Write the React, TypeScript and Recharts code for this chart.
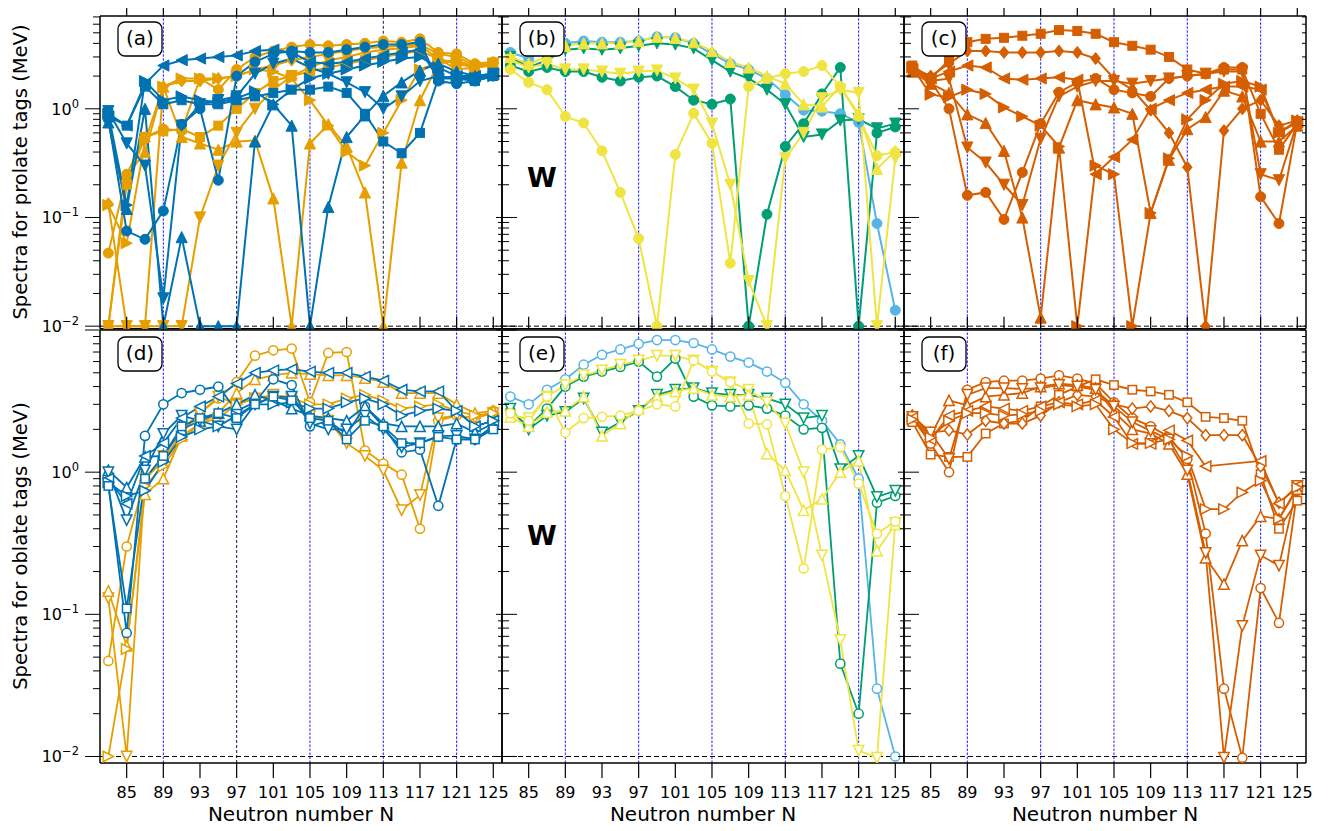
import React from "react";
import { LineChart, Line, XAxis, YAxis, ReferenceLine } from "recharts";

const FONT = "'DejaVu Sans', 'Liberation Sans', sans-serif";

const neutrons = [83, 85, 87, 89, 91, 93, 95, 97, 99, 101, 103, 105, 107, 109, 111, 113, 115, 117, 119, 121, 123, 125];
const xTicks = [85, 89, 93, 97, 101, 105, 109, 113, 117, 121, 125];
const shellLines = [89, 97, 105, 113, 121];
const yMajorTicks = [0.01, 0.1, 1, 10];
const yMinorTicks = [0.02, 0.03, 0.04, 0.05, 0.06, 0.07, 0.08, 0.09, 0.2, 0.3, 0.4, 0.5, 0.6, 0.7, 0.8, 0.9, 2, 3, 4, 5, 6, 7, 8, 9];
const yTickExp: Record<string, string> = { "0.01": "\u22122", "0.1": "\u22121", "1": "0" };

// (a) prolate tags, filled markers
const aOrangeCircle = [0.047, 0.25, 0.55, 0.65, 0.63, 1.9, 1.5, 2.3, 3.0, 3.4, 3.7, 3.9, 3.8, 3.9, 4.0, 4.2, 4.1, 4.4, 3.3, 3.2, 2.6, 2.7];
const aOrangeDiamond = [0.134, 0.01, 0.01, 1.6, 1.8, 1.8, 1.9, 2.0, 2.3, 2.5, 2.8, 3.0, 3.2, 3.4, 3.6, 3.7, 3.8, 3.9, 3.2, 3.0, 2.5, 2.6];
const aOrangeDown = [0.01, 0.01, 0.01, 0.01, 0.01, 0.1, 0.3, 0.6, 1.0, 1.5, 2.0, 2.4, 2.8, 3.0, 3.3, 3.5, 3.6, 3.8, 2.9, 2.3, 2.4, 2.6];
const aOrangeUp = [0.01, 0.24, 0.4, 1.6, 0.55, 0.48, 0.42, 0.5, 0.51, 0.15, 0.01, 0.48, 0.72, 0.45, 0.17, 0.01, 0.32, 1.2, 2.6, 2.8, 2.4, 2.6];
const aOrangeRight = [0.13, 0.058, 0.5, 1.6, 1.9, 1.9, 1.9, 2.0, 2.3, 2.2, 1.9, 1.2, 0.7, 0.4, 0.3, 0.6, 1.2, 2.3, 2.7, 2.8, 2.4, 2.6];
const aOrangeSquare = [0.01, 0.2, 0.55, 0.62, 0.65, 0.55, 0.7, 1.0, 1.4, 1.8, 2.0, 2.2, 2.4, 2.6, 2.8, 3.0, 3.2, 3.4, 2.9, 2.6, 2.4, 2.5];
const aBlueCircle = [0.8, 0.075, 0.063, 0.115, 0.72, 1.0, 0.22, 2.0, 2.7, 3.2, 3.4, 3.3, 3.3, 3.5, 3.7, 3.9, 3.9, 4.1, 1.8, 1.7, 1.8, 2.0];
const aBlueLeft = [0.85, 0.7, 1.7, 2.5, 2.8, 2.9, 3.0, 3.1, 3.4, 3.5, 3.3, 2.7, 2.6, 2.7, 2.9, 3.1, 3.3, 3.5, 1.9, 2.0, 2.0, 2.1];
const aBlueDown = [0.95, 0.48, 0.3, 0.018, 0.7, 1.1, 1.2, 1.3, 2.1, 2.6, 2.9, 2.4, 2.1, 1.75, 1.42, 1.0, 1.3, 1.8, 2.0, 1.9, 1.9, 2.1];
const aBlueUp = [0.75, 0.12, 1.0, 0.01, 0.066, 0.01, 0.01, 0.01, 0.5, 1.1, 0.7, 0.01, 0.125, 0.55, 0.87, 1.32, 1.75, 2.25, 2.6, 2.2, 2.0, 2.1];
const aBlueRight = [0.9, 0.13, 1.8, 1.2, 1.3, 1.2, 1.15, 1.25, 1.45, 1.1, 1.5, 1.9, 2.1, 2.3, 2.5, 2.7, 2.9, 3.0, 2.4, 2.0, 1.9, 2.0];
const aBlueSquare = [0.9, 0.7, 1.6, 1.1, 1.2, 1.1, 1.1, 1.2, 1.3, 1.4, 1.5, 1.5, 1.6, 1.4, 0.9, 0.5, 0.39, 0.6, 1.9, 1.9, 1.8, 2.0];

// (b)
const bSkyCircle = [3.3, 2.9, 3.6, 4.0, 4.2, 4.1, 4.1, 4.2, 4.6, 4.5, 4.0, 3.2, 2.6, 2.3, 1.9, 1.35, 0.97, 0.95, 0.9, 0.75, 0.088, 0.014];
const bGreenDown = [3.0, 2.4, 2.8, 3.5, 3.6, 3.5, 3.6, 3.8, 4.0, 3.9, 3.6, 2.8, 2.2, 1.9, 1.5, 1.1, 0.55, 0.58, 0.78, 0.8, 0.66, 0.73];
const bGreenCircle = [2.5, 2.2, 2.4, 2.2, 2.2, 1.95, 1.8, 1.95, 2.0, 1.6, 1.2, 1.1, 1.23, 0.01, 0.107, 0.45, 0.73, 1.37, 2.4, 0.01, 0.6, 0.68];
const bYellowDown = [2.8, 2.4, 2.6, 2.3, 2.3, 2.2, 2.1, 2.2, 2.25, 1.9, 1.5, 0.73, 0.2, 0.026, 0.01, 0.35, 0.6, 1.25, 1.5, 1.4, 0.01, 0.35];
const bYellowUp = [3.0, 2.6, 3.0, 3.8, 4.0, 4.0, 4.0, 4.2, 4.6, 4.5, 4.1, 3.4, 2.7, 2.4, 2.0, 1.7, 1.1, 1.05, 1.6, 0.9, 0.28, 0.41];
const bYellowCircle = [2.3, 1.75, 1.5, 0.85, 0.74, 0.41, 0.17, 0.064, 0.01, 0.38, 0.91, 0.48, 0.038, 1.6, 1.9, 2.1, 2.2, 2.5, 1.6, 0.85, 0.37, 0.4];

// (c)
const cSquare = [2.5, 1.9, 2.8, 4.1, 4.4, 4.5, 4.7, 4.9, 5.3, 5.2, 4.9, 4.1, 3.8, 3.5, 3.0, 2.3, 2.1, 2.3, 2.3, 0.9, 0.42, 0.73];
const cRight = [2.4, 1.35, 1.28, 1.5, 1.37, 1.03, 0.85, 0.7, 0.45, 0.01, 0.3, 0.25, 0.01, 0.11, 0.35, 0.8, 1.2, 1.7, 1.8, 1.6, 0.6, 0.78];
const cDiamond = [2.4, 2.0, 2.6, 3.4, 3.4, 3.3, 3.3, 3.3, 3.4, 3.3, 2.9, 1.9, 1.5, 0.97, 0.6, 0.29, 0.01, 0.63, 1.0, 1.2, 0.7, 0.78];
const cLeft = [2.3, 1.9, 2.2, 2.5, 2.4, 1.9, 1.85, 1.9, 1.95, 1.85, 0.25, 0.36, 0.52, 1.0, 1.2, 1.4, 1.5, 1.6, 1.6, 1.5, 0.6, 0.75];
const cCircle = [2.3, 1.8, 1.0, 0.16, 0.17, 0.096, 0.26, 0.73, 1.42, 1.75, 1.9, 1.5, 1.4, 1.3, 1.9, 2.0, 2.1, 2.4, 2.4, 0.155, 0.088, 0.75];
const cUp = [2.2, 1.7, 1.4, 0.89, 0.74, 0.41, 0.1, 0.012, 0.44, 1.2, 1.1, 1.03, 0.9, 0.11, 0.34, 0.65, 0.84, 1.47, 1.3, 0.5, 0.5, 0.7];
const cDown = [2.3, 1.8, 1.9, 0.44, 0.32, 0.2, 0.13, 0.53, 1.3, 1.6, 1.8, 1.8, 1.7, 1.8, 1.9, 2.0, 2.1, 2.2, 2.2, 0.25, 0.22, 0.75];

// (d) oblate tags, open markers
const dOrangeCircle = [0.047, 0.3, 0.9, 1.2, 1.9, 2.6, 3.3, 4.3, 6.6, 7.2, 7.4, 3.1, 6.9, 7.0, 1.42, 1.15, 0.96, 0.4, 2.3, 2.5, 2.4, 2.7];
const dOrangeDown = [0.13, 0.01, 0.9, 1.3, 2.0, 2.6, 3.4, 3.0, 3.3, 3.5, 3.3, 2.5, 2.3, 1.6, 1.3, 1.03, 0.54, 0.69, 2.4, 2.5, 2.4, 2.6];
const dOrangeUp = [0.146, 0.06, 0.7, 0.9, 1.8, 2.2, 2.6, 3.6, 4.5, 4.8, 5.0, 4.9, 4.8, 4.8, 4.6, 4.3, 3.6, 3.6, 3.6, 3.0, 2.6, 2.7];
const dOrangeRight = [0.01, 0.057, 0.8, 1.1, 1.7, 2.2, 2.4, 3.0, 3.3, 3.4, 3.3, 3.0, 3.0, 3.3, 3.5, 3.2, 2.8, 2.9, 3.0, 2.7, 2.5, 2.6];
const dBlueCircle = [0.83, 0.074, 1.8, 3.0, 3.6, 3.8, 4.0, 2.7, 3.1, 4.5, 4.1, 2.1, 2.3, 1.85, 2.9, 2.1, 1.38, 1.44, 0.58, 1.7, 1.7, 2.1];
const dBlueUp = [1.03, 0.78, 1.28, 1.3, 2.0, 2.3, 2.6, 3.0, 3.5, 3.2, 2.8, 2.5, 2.4, 2.3, 2.9, 2.2, 2.1, 2.1, 2.1, 2.2, 1.9, 2.2];
const dBlueDown = [1.0, 0.46, 1.03, 1.86, 2.5, 2.3, 2.1, 2.0, 3.0, 3.4, 3.4, 2.2, 2.0, 2.0, 2.5, 2.0, 1.5, 1.6, 1.8, 1.8, 1.7, 2.1];
const dBlueLeft = [0.9, 0.6, 1.3, 1.6, 2.4, 2.9, 3.4, 4.2, 5.0, 5.2, 5.3, 5.1, 5.0, 5.0, 4.7, 4.4, 3.8, 3.7, 3.7, 2.7, 2.1, 2.3];
const dBlueRight = [0.85, 0.68, 0.74, 1.18, 1.77, 2.0, 2.1, 2.5, 3.0, 3.0, 3.1, 2.8, 2.8, 3.1, 3.3, 3.0, 2.5, 2.7, 2.8, 2.7, 2.1, 2.3];
const dBlueSquare = [0.8, 0.11, 0.9, 1.3, 2.1, 2.4, 2.6, 2.4, 3.0, 3.4, 3.2, 2.4, 2.3, 1.7, 2.3, 2.1, 1.6, 1.6, 1.77, 1.7, 1.7, 2.0];

// (e)
const eSkyCircle = [3.4, 3.0, 3.8, 4.5, 5.7, 6.7, 7.3, 8.0, 8.5, 8.5, 8.1, 7.3, 6.5, 5.9, 5.1, 4.25, 3.0, 2.3, 1.57, 0.9, 0.03, 0.01];
const eGreenCircle = [2.7, 2.1, 2.8, 4.0, 4.7, 5.1, 5.5, 6.0, 4.7, 6.3, 3.4, 2.95, 2.9, 2.95, 2.8, 2.5, 2.0, 2.05, 0.045, 0.02, 0.61, 0.68];
const eGreenDown = [2.8, 2.0, 2.5, 2.65, 3.3, 1.9, 2.25, 2.7, 3.5, 3.8, 3.9, 3.6, 3.5, 3.5, 3.3, 3.0, 2.4, 2.5, 1.05, 1.3, 0.67, 0.74];
const eYellowDown = [2.5, 2.4, 3.4, 4.1, 4.8, 5.2, 5.7, 6.1, 6.6, 6.6, 6.1, 5.1, 4.3, 3.8, 3.1, 2.2, 1.0, 0.26, 0.066, 0.011, 0.0098, 0.44];
const eYellowUp = [2.45, 2.1, 2.65, 2.7, 3.4, 1.8, 2.2, 2.8, 3.4, 3.7, 3.9, 3.5, 3.4, 3.5, 1.35, 1.03, 0.54, 0.65, 1.0, 1.2, 0.28, 0.43];
const eYellowCircle = [2.6, 2.3, 3.4, 1.9, 2.4, 2.45, 2.5, 2.7, 3.0, 2.9, 6.1, 5.1, 4.3, 2.2, 2.17, 0.68, 0.21, 1.44, 1.5, 0.83, 0.37, 0.45];

// (f)
const fCircle = [2.4, 1.59, 1.0, 3.8, 4.3, 4.4, 4.4, 4.55, 4.8, 4.55, 4.2, 3.1, 2.4, 2.1, 1.77, 1.24, 0.37, 0.03, 0.0098, 0.153, 0.087, 0.74];
const fSquare = [2.25, 1.33, 1.28, 1.28, 1.87, 2.2, 2.3, 2.9, 3.5, 4.0, 4.5, 4.1, 3.8, 3.7, 3.5, 3.1, 2.45, 2.4, 2.3, 0.97, 0.4, 0.63];
const fDiamond = [2.5, 1.9, 1.97, 1.84, 2.3, 2.2, 2.2, 2.5, 3.1, 3.5, 3.4, 3.0, 2.8, 2.9, 2.7, 2.4, 1.82, 1.82, 1.82, 1.1, 0.61, 0.78];
const fUp = [2.5, 1.8, 3.2, 2.95, 3.4, 3.5, 3.6, 4.0, 4.2, 4.1, 3.9, 2.65, 2.0, 1.87, 1.58, 0.97, 0.25, 0.163, 0.33, 0.49, 0.47, 0.76];
const fDown = [2.45, 1.9, 1.24, 3.5, 3.9, 3.9, 3.85, 3.9, 4.1, 4.0, 3.8, 2.9, 2.25, 1.95, 1.7, 1.03, 0.27, 0.0098, 0.083, 0.26, 0.22, 0.8];
const fLeft = [2.4, 1.7, 2.5, 2.7, 2.9, 2.8, 2.7, 2.9, 3.1, 3.0, 3.2, 2.45, 1.58, 1.58, 1.97, 1.67, 1.1, null, null, 1.2, 0.6, 0.8];
const fRight = [2.35, 1.75, 2.3, 2.6, 2.6, 2.5, 2.55, 2.7, 3.0, 2.9, 3.0, 2.0, 1.6, 1.6, 1.7, 1.3, 0.55, 0.55, 0.72, 0.87, 0.47, 0.78];

const BLUE = "#0072B2";
const ORANGE = "#E69F00";
const SKY = "#56B4E9";
const GREEN = "#009E73";
const YELLOW = "#F0E442";
const RED = "#D55E00";

type Marker = "o" | "^" | "v" | "<" | ">" | "s" | "D";
interface Series {
  key: string;
  values: (number | null)[];
  color: string;
  marker: Marker;
}

const panelA: Series[] = [
  { key: "oo", values: aOrangeCircle, color: ORANGE, marker: "o" },
  { key: "oD", values: aOrangeDiamond, color: ORANGE, marker: "D" },
  { key: "ov", values: aOrangeDown, color: ORANGE, marker: "v" },
  { key: "o^", values: aOrangeUp, color: ORANGE, marker: "^" },
  { key: "o>", values: aOrangeRight, color: ORANGE, marker: ">" },
  { key: "os", values: aOrangeSquare, color: ORANGE, marker: "s" },
  { key: "bo", values: aBlueCircle, color: BLUE, marker: "o" },
  { key: "b<", values: aBlueLeft, color: BLUE, marker: "<" },
  { key: "bv", values: aBlueDown, color: BLUE, marker: "v" },
  { key: "b^", values: aBlueUp, color: BLUE, marker: "^" },
  { key: "b>", values: aBlueRight, color: BLUE, marker: ">" },
  { key: "bs", values: aBlueSquare, color: BLUE, marker: "s" },
];
const panelB: Series[] = [
  { key: "so", values: bSkyCircle, color: SKY, marker: "o" },
  { key: "gv", values: bGreenDown, color: GREEN, marker: "v" },
  { key: "go", values: bGreenCircle, color: GREEN, marker: "o" },
  { key: "yv", values: bYellowDown, color: YELLOW, marker: "v" },
  { key: "y^", values: bYellowUp, color: YELLOW, marker: "^" },
  { key: "yo", values: bYellowCircle, color: YELLOW, marker: "o" },
];
const panelC: Series[] = [
  { key: "rs", values: cSquare, color: RED, marker: "s" },
  { key: "r>", values: cRight, color: RED, marker: ">" },
  { key: "rD", values: cDiamond, color: RED, marker: "D" },
  { key: "r<", values: cLeft, color: RED, marker: "<" },
  { key: "ro", values: cCircle, color: RED, marker: "o" },
  { key: "r^", values: cUp, color: RED, marker: "^" },
  { key: "rv", values: cDown, color: RED, marker: "v" },
];
const panelD: Series[] = [
  { key: "oo", values: dOrangeCircle, color: ORANGE, marker: "o" },
  { key: "ov", values: dOrangeDown, color: ORANGE, marker: "v" },
  { key: "o^", values: dOrangeUp, color: ORANGE, marker: "^" },
  { key: "o>", values: dOrangeRight, color: ORANGE, marker: ">" },
  { key: "bo", values: dBlueCircle, color: BLUE, marker: "o" },
  { key: "b^", values: dBlueUp, color: BLUE, marker: "^" },
  { key: "bv", values: dBlueDown, color: BLUE, marker: "v" },
  { key: "b<", values: dBlueLeft, color: BLUE, marker: "<" },
  { key: "b>", values: dBlueRight, color: BLUE, marker: ">" },
  { key: "bs", values: dBlueSquare, color: BLUE, marker: "s" },
];
const panelE: Series[] = [
  { key: "so", values: eSkyCircle, color: SKY, marker: "o" },
  { key: "go", values: eGreenCircle, color: GREEN, marker: "o" },
  { key: "gv", values: eGreenDown, color: GREEN, marker: "v" },
  { key: "yv", values: eYellowDown, color: YELLOW, marker: "v" },
  { key: "y^", values: eYellowUp, color: YELLOW, marker: "^" },
  { key: "yo", values: eYellowCircle, color: YELLOW, marker: "o" },
];
const panelF: Series[] = [
  { key: "ro", values: fCircle, color: RED, marker: "o" },
  { key: "rs", values: fSquare, color: RED, marker: "s" },
  { key: "rD", values: fDiamond, color: RED, marker: "D" },
  { key: "r^", values: fUp, color: RED, marker: "^" },
  { key: "rv", values: fDown, color: RED, marker: "v" },
  { key: "r<", values: fLeft, color: RED, marker: "<" },
  { key: "r>", values: fRight, color: RED, marker: ">" },
];

// shell lines drawn darker in some panels
const darkShells: Record<string, number[]> = { "0-0": [97, 113], "0-1": [97] };

// layout
const COL_LEFT = [100, 502, 904];
const PW = 402;
const ROWS = [
  { top: 15.5, height: 312.8, domain: [0.00946, 7.14] as [number, number] },
  { top: 330, height: 433, domain: [0.009, 10] as [number, number] },
];
const X_DOMAIN: [number, number] = [82.09, 125.95];
const ML = 100;
const MR = 20;
const MT = 20;
const MB = 80;
const AX = 1; // thickness reserved by each axis

function markerRenderer(shape: Marker, color: string, filled: boolean) {
  return (props: any) => {
    const { cx, cy, index } = props;
    const key = `mk-${index}`;
    if (cx == null || cy == null || Number.isNaN(cx) || Number.isNaN(cy)) return <g key={key} />;
    const style = { fill: filled ? color : "#ffffff", stroke: color, strokeWidth: filled ? 1 : 1.5 };
    const r = filled ? 5.6 : 5.2;
    switch (shape) {
      case "o":
        return <circle key={key} cx={cx} cy={cy} r={filled ? 5 : 4.6} {...style} />;
      case "s": {
        const h = filled ? 4.5 : 4.2;
        return <rect key={key} x={cx - h} y={cy - h} width={2 * h} height={2 * h} {...style} />;
      }
      case "D": {
        const d = filled ? 6 : 5.6;
        return <polygon key={key} points={`${cx},${cy - d} ${cx + d * 0.8},${cy} ${cx},${cy + d} ${cx - d * 0.8},${cy}`} {...style} />;
      }
      case "^":
        return <polygon key={key} points={`${cx},${cy - r} ${cx - r},${cy + r} ${cx + r},${cy + r}`} {...style} />;
      case "v":
        return <polygon key={key} points={`${cx},${cy + r} ${cx - r},${cy - r} ${cx + r},${cy - r}`} {...style} />;
      case "<":
        return <polygon key={key} points={`${cx - r},${cy} ${cx + r},${cy - r} ${cx + r},${cy + r}`} {...style} />;
      default:
        return <polygon key={key} points={`${cx + r},${cy} ${cx - r},${cy - r} ${cx - r},${cy + r}`} {...style} />;
    }
  };
}

const isMajor = (v: number) => yMajorTicks.includes(v);

const makeYTick = (side: "left" | "right", col: number) => (props: any) => {
  const { x, y, payload } = props;
  const v = payload.value as number;
  const major = isMajor(v);
  if (side === "right") {
    const len = major ? 6 : 4;
    return <line x1={x - len} x2={x} y1={y} y2={y} stroke="#000" strokeWidth={1} />;
  }
  const len = major ? 15 : 7;
  if (col > 0) {
    return <line x1={x} x2={x + len} y1={y} y2={y} stroke="#000" strokeWidth={1} />;
  }
  const exp = yTickExp[String(v)];
  return (
    <g>
      <line x1={x - len} x2={x} y1={y} y2={y} stroke="#000" strokeWidth={1} />
      {exp && (
        <text x={x - 21} y={y + 6} textAnchor="end" fontSize={16} fontFamily={FONT} fill="#000">
          10<tspan dy={-7} fontSize={11.5}>{exp}</tspan>
        </text>
      )}
    </g>
  );
};

const makeXTick = (mode: "inUp" | "outDown" | "outUp") => (props: any) => {
  const { x, y, payload } = props;
  if (mode === "inUp") return <line x1={x} x2={x} y1={y} y2={y - 12} stroke="#000" strokeWidth={1.2} />;
  if (mode === "outUp") return <line x1={x} x2={x} y1={y} y2={y - 8} stroke="#000" strokeWidth={1.2} />;
  return (
    <g>
      <line x1={x} x2={x} y1={y} y2={y + 15} stroke="#000" strokeWidth={1.2} />
      <text x={x} y={y + 35} textAnchor="middle" fontSize={16} fontFamily={FONT} fill="#000">
        {payload.value}
      </text>
    </g>
  );
};

interface PanelProps {
  col: number;
  row: number;
  series: Series[];
}

function Panel({ col, row, series }: PanelProps) {
  const g = ROWS[row];
  const filled = row === 0;
  const dark = darkShells[`${col}-${row}`] || [];
  const data = neutrons.map((n, i) => {
    const r: Record<string, number | null> = { N: n };
    series.forEach((s) => {
      r[s.key] = s.values[i];
    });
    return r;
  });
  const yTicks = [...yMajorTicks, ...yMinorTicks].filter((t) => t >= g.domain[0] && t <= g.domain[1]);
  const axisLine = { stroke: "#000", strokeWidth: 1.5 };
  return (
    <div style={{ position: "absolute", left: COL_LEFT[col] - ML, top: g.top - MT }}>
      <LineChart
        width={PW + ML + MR}
        height={g.height + MT + MB}
        data={data}
        margin={{ top: MT - AX, right: MR - AX, bottom: MB - AX, left: ML - AX }}
      >
        <XAxis
          xAxisId="b"
          dataKey="N"
          type="number"
          domain={X_DOMAIN}
          allowDataOverflow
          ticks={xTicks}
          interval={0}
          height={AX}
          tickSize={0}
          tickMargin={0}
          tickLine={false}
          axisLine={axisLine}
          tick={makeXTick(row === 0 ? "inUp" : "outDown")}
        />
        <XAxis
          xAxisId="t"
          orientation="top"
          dataKey="N"
          type="number"
          domain={X_DOMAIN}
          allowDataOverflow
          ticks={xTicks}
          interval={0}
          height={AX}
          tickSize={0}
          tickMargin={0}
          tickLine={false}
          axisLine={axisLine}
          tick={row === 0 ? makeXTick("outUp") : false}
        />
        <YAxis
          yAxisId="l"
          type="number"
          scale="log"
          domain={g.domain}
          allowDataOverflow
          ticks={yTicks}
          interval={0}
          width={AX}
          tickSize={0}
          tickMargin={0}
          tickLine={false}
          axisLine={axisLine}
          tick={makeYTick("left", col)}
        />
        <YAxis
          yAxisId="r"
          orientation="right"
          type="number"
          scale="log"
          domain={g.domain}
          allowDataOverflow
          ticks={yTicks}
          interval={0}
          width={AX}
          tickSize={0}
          tickMargin={0}
          tickLine={false}
          axisLine={axisLine}
          tick={makeYTick("right", col)}
        />
        {shellLines.map((v) => {
          const isDark = dark.includes(v);
          return (
            <ReferenceLine
              key={`v${v}`}
              xAxisId="b"
              yAxisId="l"
              x={v}
              stroke={isDark ? "#000033" : "#0000ff"}
              strokeWidth={0.9}
              strokeDasharray={isDark ? "3 2" : "2.5 1.5"}
            />
          );
        })}
        <ReferenceLine xAxisId="b" yAxisId="l" y={0.01} stroke="#000" strokeWidth={1} strokeDasharray="5 3" />
        {series.map((s) => (
          <Line
            key={s.key}
            xAxisId="b"
            yAxisId="l"
            dataKey={s.key}
            stroke={s.color}
            strokeWidth={filled ? 2 : 1.8}
            dot={markerRenderer(s.marker, s.color, filled)}
            activeDot={false}
            connectNulls
            isAnimationActive={false}
          />
        ))}
      </LineChart>
    </div>
  );
}

const panelTags = [
  { text: "(a)", col: 0, row: 0 },
  { text: "(b)", col: 1, row: 0 },
  { text: "(c)", col: 2, row: 0 },
  { text: "(d)", col: 0, row: 1 },
  { text: "(e)", col: 1, row: 1 },
  { text: "(f)", col: 2, row: 1 },
];

export default function App() {
  return (
    <div style={{ position: "absolute", left: 0, top: 0, width: 1338, height: 831, background: "#fff", overflow: "hidden" }}>
      <Panel col={0} row={0} series={panelA} />
      <Panel col={1} row={0} series={panelB} />
      <Panel col={2} row={0} series={panelC} />
      <Panel col={0} row={1} series={panelD} />
      <Panel col={1} row={1} series={panelE} />
      <Panel col={2} row={1} series={panelF} />
      <svg width={1338} height={831} style={{ position: "absolute", left: 0, top: 0, pointerEvents: "none" }}>
        {panelTags.map((t) => {
          const bx = COL_LEFT[t.col] + 18;
          const by = t.row === 0 ? 22 : 337;
          return (
            <g key={t.text}>
              <rect x={bx} y={by} width={44} height={34} rx={7} ry={7} fill="#fff" stroke="#000" strokeWidth={1.3} />
              <text x={bx + 22} y={by + 23} textAnchor="middle" fontSize={20} fontFamily={FONT} fill="#000">
                {t.text}
              </text>
            </g>
          );
        })}
        <text x={542} y={187} textAnchor="middle" fontSize={27} fontWeight="bold" fontFamily={FONT} fill="#000">W</text>
        <text x={542} y={545} textAnchor="middle" fontSize={27} fontWeight="bold" fontFamily={FONT} fill="#000">W</text>
        <text transform="translate(27,172) rotate(-90)" textAnchor="middle" fontSize={19.5} fontFamily={FONT} fill="#000">
          Spectra for prolate tags (MeV)
        </text>
        <text transform="translate(27,546) rotate(-90)" textAnchor="middle" fontSize={19.5} fontFamily={FONT} fill="#000">
          Spectra for oblate tags (MeV)
        </text>
        {COL_LEFT.map((l) => (
          <text key={l} x={l + PW / 2} y={821} textAnchor="middle" fontSize={20} fontFamily={FONT} fill="#000">
            Neutron number N
          </text>
        ))}
      </svg>
    </div>
  );
}
